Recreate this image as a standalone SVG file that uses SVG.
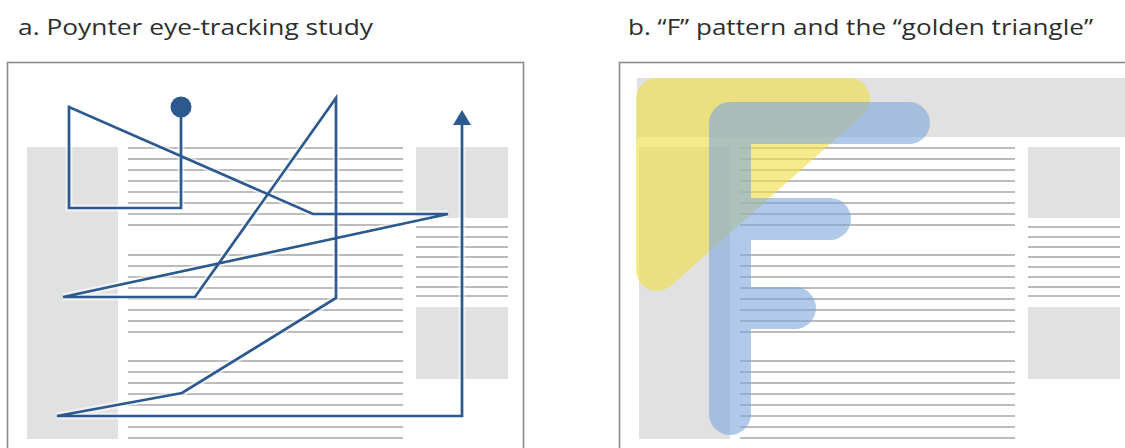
<svg xmlns="http://www.w3.org/2000/svg" width="1125" height="448" viewBox="0 0 1125 448">
  <style>
    .title { font-family: "Open Sans", "Liberation Sans", sans-serif; font-size: 21px; fill: #2e2e2e; }
    .frame { fill: #ffffff; stroke: #8a8a8a; stroke-width: 1.6; }
    .block { fill: #e1e1e1; }
    .txt { fill: none; stroke: #a6a6a6; stroke-width: 1.4; }
    .gaze { fill: none; stroke: #2c5a8e; stroke-width: 2.7; stroke-linejoin: miter; }
    .halo { fill: none; stroke: #ffffff; stroke-width: 7; stroke-opacity: 0.55; }
    .fbar { fill: none; stroke: #7fa8dc; stroke-width: 42; stroke-linecap: round; stroke-linejoin: round; }
  </style>
  <rect x="0" y="0" width="1125" height="448" fill="#ffffff"/>

  <!-- Panel a -->
  <g id="panel-a">
    <text class="title" x="18" y="35" textLength="355" lengthAdjust="spacingAndGlyphs">a. Poynter eye-tracking study</text>
    <rect class="frame" x="7.5" y="62.5" width="516" height="420"/>
    <g id="a-page">
      <rect class="block" x="27" y="147" width="91" height="292"/>
      <rect class="block" x="416" y="147" width="92" height="71"/>
      <rect class="block" x="416" y="307" width="92" height="72"/>
      <path class="txt" d="M128 148H403M128 159H403M128 170H403M128 181H403M128 192H403M128 203H403M128 214H403M128 225H403
        M128 255H403M128 266H403M128 277H403M128 288H403M128 299H403M128 310H403M128 321H403M128 332H403
        M128 361H403M128 372H403M128 383H403M128 394H403M128 405H403M128 416H403M128 427H403M128 438H403
        M416 227H508M416 237H508M416 247H508M416 257H508M416 267H508M416 277H508M416 287H508M416 296H508"/>
    </g>
    <g id="a-gaze-path">
      <path class="halo" d="M181 107V208H69V107L313 214H448L63 297H195L336 98V298L182 393L57 416H462V124"/>
      <path class="gaze" d="M181 107V208H69V107L313 214H448L63 297H195L336 98V298L182 393L57 416H462V124"/>
      <circle cx="181" cy="107" r="10.5" fill="#2c5a8e"/>
      <polygon points="462,110 471,125 453,125" fill="#2c5a8e"/>
    </g>
  </g>

  <!-- Panel b -->
  <g id="panel-b">
    <text class="title" x="628" y="35" textLength="465" lengthAdjust="spacingAndGlyphs">b. &#8220;F&#8221; pattern and the &#8220;golden triangle&#8221;</text>
    <rect class="frame" x="619.5" y="62.5" width="540" height="420"/>
    <g id="b-page">
      <rect class="block" x="637" y="78" width="490" height="59"/>
      <rect class="block" x="639" y="147" width="91" height="292"/>
      <rect class="block" x="1028" y="147" width="92" height="71"/>
      <rect class="block" x="1028" y="307" width="92" height="72"/>
      <path class="txt" d="M740 148H1015M740 159H1015M740 170H1015M740 181H1015M740 192H1015M740 203H1015M740 214H1015M740 225H1015
        M740 255H1015M740 266H1015M740 277H1015M740 288H1015M740 299H1015M740 310H1015M740 321H1015M740 332H1015
        M740 361H1015M740 372H1015M740 383H1015M740 394H1015M740 405H1015M740 416H1015M740 427H1015M740 438H1015
        M1028 227H1120M1028 237H1120M1028 247H1120M1028 257H1120M1028 267H1120M1028 277H1120M1028 287H1120M1028 296H1120"/>
    </g>
    <g id="golden-triangle" opacity="0.65">
      <path d="M657 99H849L657 270Z" fill="#f0df50" stroke="#f0df50" stroke-width="42" stroke-linejoin="round"/>
    </g>
    <g id="f-pattern" opacity="0.6">
      <path class="fbar" d="M909 123H730V414"/>
      <path class="fbar" d="M730 219H830" stroke-width="40"/>
      <path class="fbar" d="M730 308H795" stroke-width="40"/>
    </g>
  </g>
</svg>
